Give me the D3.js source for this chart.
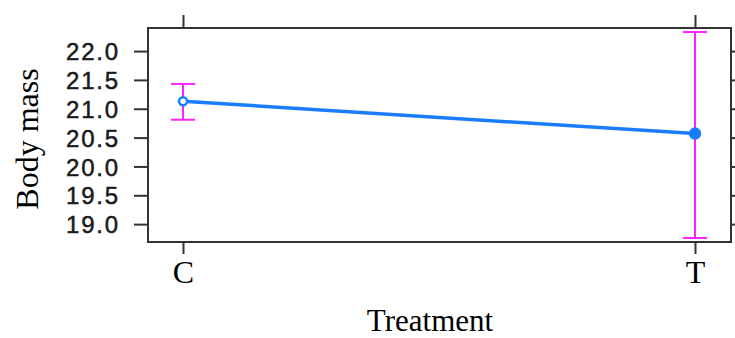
<!DOCTYPE html>
<html>
<head>
<meta charset="utf-8">
<script src="https://cdn.jsdelivr.net/npm/d3@7"></script>
<style>
  body { margin: 0; background: #fff; }
  svg { display: block; }
</style>
</head>
<body>
<div id="chart"></div>
<script>
const categories = ['C', 'T'];
const means = [21.13, 20.57];
const lower = [20.81, 18.76];
const upper = [21.43, 22.33];
const yTicks = [19.0, 19.5, 20.0, 20.5, 21.0, 21.5, 22.0];

const W = 735, H = 338;
const box = { left: 148, right: 731, top: 28, bottom: 242 };

const svg = d3.select('#chart').append('svg')
  .attr('width', W)
  .attr('height', H);

const x = d3.scalePoint()
  .domain(categories)
  .range([183, 695]);

const y = d3.scaleLinear()
  .domain([18.69, 22.40])
  .range([box.bottom, box.top]);

// left axis with labels
const yAxis = svg.append('g')
  .attr('transform', `translate(${box.left},0)`)
  .call(d3.axisLeft(y).tickValues(yTicks).tickSize(14).tickPadding(14)
    .tickFormat(d3.format('.1f')));
yAxis.select('.domain').remove();
yAxis.selectAll('line').attr('stroke', '#333').attr('stroke-width', 2);
yAxis.selectAll('text')
  .attr('font-family', 'Liberation Sans, Arial, sans-serif')
  .attr('font-size', 24)
  .attr('letter-spacing', 1.8)
  .attr('dy', '0.36em')
  .attr('fill', '#1a1a1a')
  .attr('stroke', '#1a1a1a')
  .attr('stroke-width', 0.5);

// right ticks (no labels)
const yAxisR = svg.append('g')
  .attr('transform', `translate(${box.right},0)`)
  .call(d3.axisRight(y).tickValues(yTicks).tickSize(14).tickFormat(''));
yAxisR.select('.domain').remove();
yAxisR.selectAll('line').attr('stroke', '#333').attr('stroke-width', 2);

// bottom axis
const xAxis = svg.append('g')
  .attr('transform', `translate(0,${box.bottom})`)
  .call(d3.axisBottom(x).tickSize(12).tickPadding(0));
xAxis.select('.domain').remove();
xAxis.selectAll('line').attr('stroke', '#333').attr('stroke-width', 2);
xAxis.selectAll('text')
  .attr('y', 41)
  .attr('dy', null)
  .attr('font-family', 'Liberation Serif, Times New Roman, serif')
  .attr('font-size', 32)
  .attr('fill', '#000');

// top ticks
const xAxisT = svg.append('g')
  .attr('transform', `translate(0,${box.top})`)
  .call(d3.axisTop(x).tickSize(13).tickFormat(''));
xAxisT.select('.domain').remove();
xAxisT.selectAll('line').attr('stroke', '#333').attr('stroke-width', 2);

// panel box
svg.append('rect')
  .attr('x', box.left)
  .attr('y', box.top)
  .attr('width', box.right - box.left)
  .attr('height', box.bottom - box.top)
  .attr('fill', 'none')
  .attr('stroke', '#333')
  .attr('stroke-width', 2);

const pts = categories.map((c, i) => ({ c, m: means[i], lo: lower[i], hi: upper[i] }));

// error bars
const eb = svg.append('g')
  .attr('stroke', '#ff22ff')
  .attr('stroke-width', 2);
eb.selectAll('line.v').data(pts).enter().append('line')
  .attr('x1', d => x(d.c)).attr('x2', d => x(d.c))
  .attr('y1', d => y(d.lo)).attr('y2', d => y(d.hi));
eb.selectAll('line.t').data(pts).enter().append('line')
  .attr('x1', d => x(d.c) - 12).attr('x2', d => x(d.c) + 12)
  .attr('y1', d => y(d.hi)).attr('y2', d => y(d.hi));
eb.selectAll('line.b').data(pts).enter().append('line')
  .attr('x1', d => x(d.c) - 12).attr('x2', d => x(d.c) + 12)
  .attr('y1', d => y(d.lo)).attr('y2', d => y(d.lo));

// mean line
svg.append('path')
  .datum(pts)
  .attr('fill', 'none')
  .attr('stroke', '#1a7dff')
  .attr('stroke-width', 3.5)
  .attr('d', d3.line().x(d => x(d.c)).y(d => y(d.m)));

// points: first hollow, second filled
svg.selectAll('circle.pt').data(pts).enter().append('circle')
  .attr('cx', d => x(d.c))
  .attr('cy', d => y(d.m))
  .attr('r', (d, i) => i === 0 ? 4 : 5)
  .attr('fill', (d, i) => i === 0 ? '#fff' : '#1a7dff')
  .attr('stroke', '#1a7dff')
  .attr('stroke-width', 2.5);

// axis titles
svg.append('text')
  .attr('transform', `translate(38,139) rotate(-90)`)
  .attr('text-anchor', 'middle')
  .attr('font-family', 'Liberation Serif, Times New Roman, serif')
  .attr('font-size', 32)
  .attr('fill', '#000')
  .text('Body mass');

svg.append('text')
  .attr('x', 430)
  .attr('y', 331)
  .attr('text-anchor', 'middle')
  .attr('font-family', 'Liberation Serif, Times New Roman, serif')
  .attr('font-size', 31)
  .attr('fill', '#000')
  .text('Treatment');
</script>
</body>
</html>
